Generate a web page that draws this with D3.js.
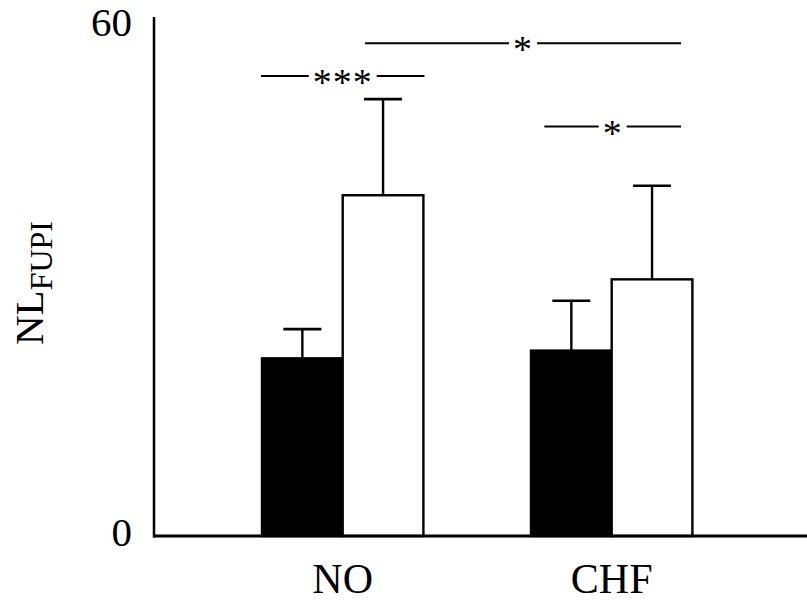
<!DOCTYPE html>
<html>
<head>
<meta charset="utf-8">
<script src="https://cdn.jsdelivr.net/npm/d3@7"></script>
<style>
  html, body { margin: 0; padding: 0; background: #fff; }
  svg { display: block; }
  svg text { font-family: "Liberation Serif", "Times New Roman", Times, Tinos, "Nimbus Roman", serif !important; fill: #000; }
</style>
</head>
<body>
<svg id="chart" width="807" height="603"></svg>
<script>
// ---- data ----
const groups = ["NO", "CHF"];
const series = ["black", "white"];
const meanBlack = [20.7, 21.6];
const meanWhite = [39.7, 29.9];
const errBlack = [3.4, 5.8];
const errWhite = [11.2, 10.9];
const yTicks = [0, 60];
// significance brackets
const sigFrom = [["NO", "black"], ["NO", "white"], ["CHF", "black"]];
const sigTo = [["NO", "white"], ["CHF", "white"], ["CHF", "white"]];
const sigLevel = [53.6, 57.4, 47.7];
const sigLabel = ["***", "*", "*"];

// ---- layout ----
const W = 807, H = 603;
const axisX = 154, baseY = 536, topY = 21;
const svg = d3.select("#chart");

const y = d3.scaleLinear().domain([0, 60]).range([baseY, topY]);
const x0 = d3.scaleBand().domain(groups).range([154.4, 800]).paddingInner(0.4).paddingOuter(0.4);
const x1 = d3.scaleBand().domain(series).range([0, x0.bandwidth()]).padding(0);

const rows = groups.map((g, i) => ({
  group: g,
  vals: [
    { s: "black", v: meanBlack[i], e: errBlack[i] },
    { s: "white", v: meanWhite[i], e: errWhite[i] }
  ]
}));

const gg = svg.selectAll("g.grp").data(rows).join("g")
  .attr("class", "grp")
  .attr("transform", d => `translate(${x0(d.group)},0)`);

const capW = 38;
gg.selectAll("g.err").data(d => d.vals).join("g").attr("class", "err").each(function(d) {
  const g = d3.select(this);
  const cx = x1(d.s) + x1.bandwidth() / 2;
  g.append("line").attr("x1", cx).attr("x2", cx).attr("y1", y(d.v)).attr("y2", y(d.v + d.e))
    .attr("stroke", "#000").attr("stroke-width", 2.4);
  g.append("line").attr("x1", cx - capW / 2).attr("x2", cx + capW / 2)
    .attr("y1", y(d.v + d.e)).attr("y2", y(d.v + d.e))
    .attr("stroke", "#000").attr("stroke-width", 2.6);
});

gg.selectAll("rect").data(d => d.vals).join("rect")
  .attr("x", d => x1(d.s))
  .attr("width", x1.bandwidth())
  .attr("y", d => y(d.v))
  .attr("height", d => y(0) - y(d.v))
  .attr("fill", d => d.s === "black" ? "#000" : "#fff")
  .attr("stroke", "#000")
  .attr("stroke-width", 2.4);

// axes
const yAxis = d3.axisLeft(y).tickValues(yTicks).tickSize(0).tickPadding(22).tickFormat(d3.format("d"));
const yg = svg.append("g").attr("transform", `translate(${axisX},0)`).call(yAxis);
yg.select(".domain").remove();
yg.selectAll("text").attr("font-size", 41).attr("dy", "0.3em");
yg.selectAll(".tick").filter(d => d === 0).select("text").attr("dy", "0.22em");
yg.selectAll(".tick").filter(d => d === 60).select("text").attr("dy", "0.36em");

svg.append("line").attr("x1", axisX).attr("x2", axisX).attr("y1", 17).attr("y2", baseY + 1.5)
  .attr("stroke", "#000").attr("stroke-width", 2.5);

const xAxis = d3.axisBottom(x0).tickSize(0).tickPadding(27);
const xg = svg.append("g").attr("transform", `translate(0,${baseY})`).call(xAxis);
xg.select(".domain").remove();
xg.selectAll("text").attr("font-size", 42);
svg.append("line").attr("x1", axisX - 1).attr("x2", W).attr("y1", baseY).attr("y2", baseY)
  .attr("stroke", "#000").attr("stroke-width", 3);

// y label
const yl = svg.append("text")
  .attr("transform", `translate(43,283) rotate(-90)`)
  .attr("text-anchor", "middle")
  .attr("font-size", 41);
yl.append("tspan").text("NL");
yl.append("tspan").attr("font-size", 32).attr("dy", 9).text("FUPI");

// significance brackets
sigLabel.forEach((lab, i) => {
  const f = sigFrom[i], t = sigTo[i];
  const xa = i === 0 ? x0(f[0]) + x1(f[1]) - 1
           : i === 1 ? x0(f[0]) + x1(f[1]) + x1.bandwidth() / 2 - 18
           : x0(f[0]) + x1(f[1]) + x1.bandwidth() / 2 - 27;
  const xb = i === 0 ? x0(t[0]) + x1(t[1]) + x1.bandwidth() + 1
           : x0(t[0]) + x1(t[1]) + x1.bandwidth() / 2 + 29;
  const ly = y(sigLevel[i]);
  const cx = (xa + xb) / 2;
  const half = lab.length === 3 ? 34 : 14;
  svg.append("line").attr("x1", xa).attr("x2", cx - half).attr("y1", ly).attr("y2", ly)
    .attr("stroke", "#000").attr("stroke-width", 2);
  svg.append("line").attr("x1", cx + half).attr("x2", xb).attr("y1", ly).attr("y2", ly)
    .attr("stroke", "#000").attr("stroke-width", 2);
  svg.append("text").attr("x", cx).attr("y", ly + 19)
    .attr("text-anchor", "middle").attr("font-size", 38)
    .attr("letter-spacing", 1)
    .text(lab);
});
</script>
</body>
</html>
